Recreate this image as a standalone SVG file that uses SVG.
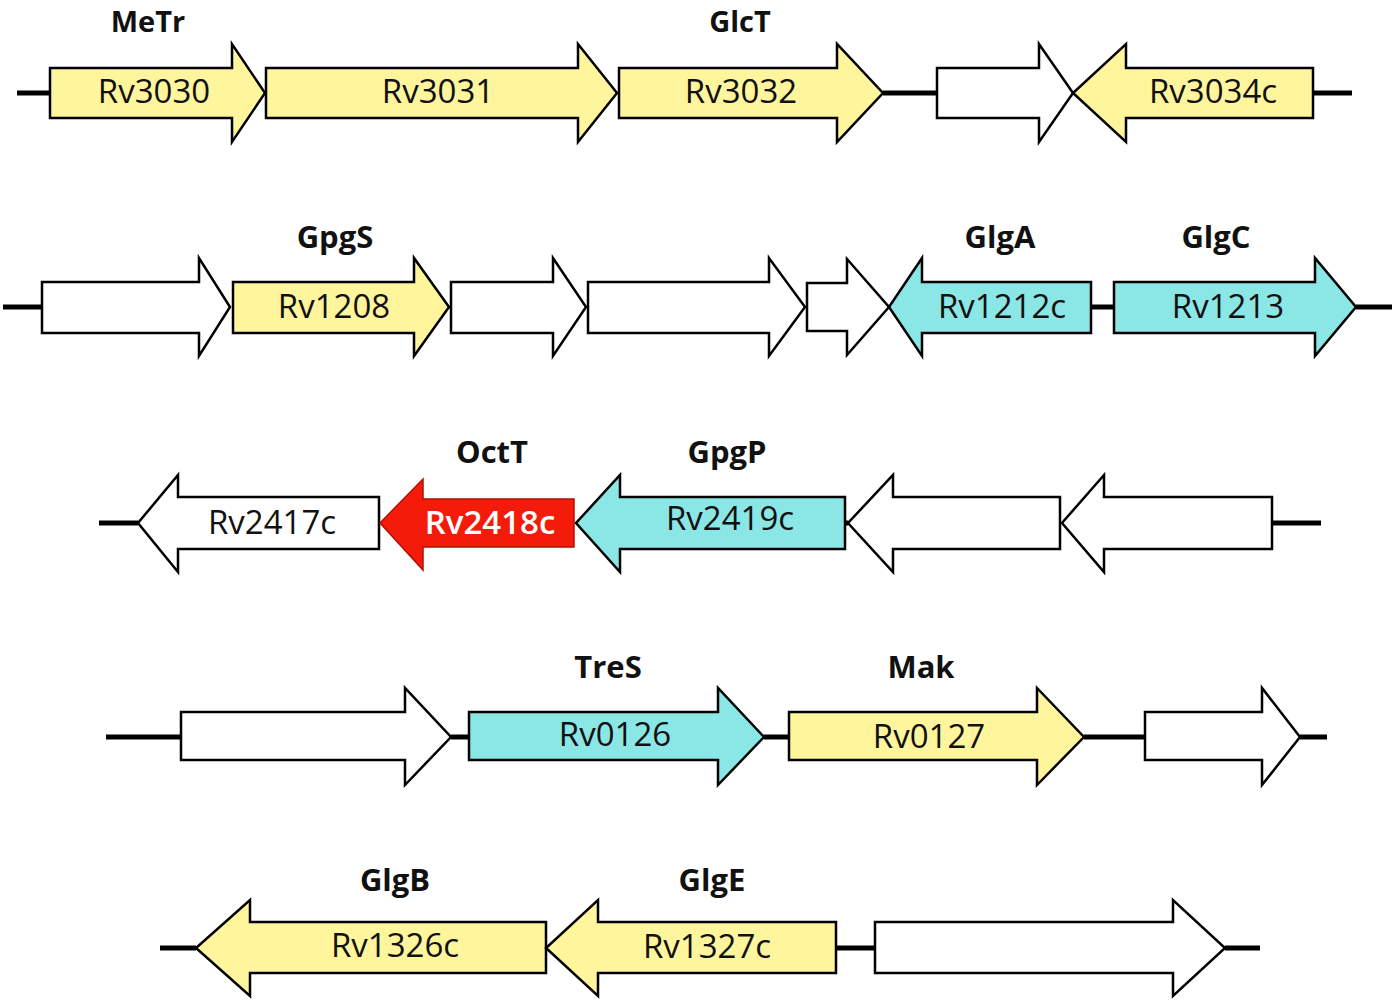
<svg xmlns="http://www.w3.org/2000/svg" width="1395" height="1003" viewBox="0 0 1395 1003">
<style>
.bb{stroke:#000;stroke-width:5;fill:none}
.g{stroke:#000;stroke-width:2.5;stroke-linejoin:miter}
.y{fill:#FFF59C}
.c{fill:#8BE6E6}
.w{fill:#fff}
.r{fill:#F41B0B;stroke:#B01000;stroke-width:1.5}
.t{font-family:"Open Sans","Liberation Sans",sans-serif;font-size:33px;text-anchor:middle;fill:#111}
.l{font-family:"Open Sans","Liberation Sans",sans-serif;font-size:31px;font-weight:bold;text-anchor:middle;fill:#111}
.l1{font-size:29px}
.tw{fill:#fff;font-weight:600}
</style>
<rect width="1395" height="1003" fill="#fff"/>
<g id="connectors">
<path class="bb" d="M17 93H50M883 93H937M1313 93H1352"/>
<path class="bb" d="M3 307H42M1091 307H1114M1356 307H1392"/>
<path class="bb" d="M99 523H138M845 523H848M1272 523H1321"/>
<path class="bb" d="M106 737H181M451 737H469M764 737H789M1084 737H1145M1300 737H1327"/>
<path class="bb" d="M160 948H196M836 948H875M1225 948H1260"/>
</g>
<!-- Row 1 -->
<g id="Rv3030"><polygon class="g y" points="50,68 232,68 232,44 265,93 232,142 232,118 50,118"/><text class="t" x="154" y="103">Rv3030</text><text class="l l1" x="148" y="32">MeTr</text></g>
<g id="Rv3031"><polygon class="g y" points="266,68 578,68 578,44 617,93 578,142 578,118 266,118"/><text class="t" x="438" y="103">Rv3031</text></g>
<g id="Rv3032"><polygon class="g y" points="619,68 837,68 837,44 883,93 837,142 837,118 619,118"/><text class="t" x="741" y="103">Rv3032</text><text class="l l1" x="740" y="32">GlcT</text></g>
<g id="Rv3033"><polygon class="g w" points="937,68 1039,68 1039,44 1073,93 1039,142 1039,118 937,118"/></g>
<g id="Rv3034c"><polygon class="g y" points="1313,68 1126,68 1126,44 1073,93 1126,142 1126,118 1313,118"/><text class="t" x="1213" y="103">Rv3034c</text></g>
<!-- Row 2 -->
<g id="Rv1207"><polygon class="g w" points="42,282 199,282 199,258 230,307 199,356 199,333 42,333"/></g>
<g id="Rv1208"><polygon class="g y" points="233,282 414,282 414,258 449,307 414,356 414,333 233,333"/><text class="t" x="334" y="318">Rv1208</text><text class="l" x="335" y="248">GpgS</text></g>
<g id="Rv1209"><polygon class="g w" points="451,282 553,282 553,258 586,307 553,356 553,333 451,333"/></g>
<g id="Rv1210"><polygon class="g w" points="588,282 769,282 769,258 805,307 769,356 769,333 588,333"/></g>
<g id="Rv1211"><polygon class="g w" points="807,283 847,283 847,259 889,307 847,355 847,331 807,331"/></g>
<g id="Rv1212c"><polygon class="g c" points="1091,282 922,282 922,258 889,307 922,356 922,333 1091,333"/><text class="t" x="1002" y="318">Rv1212c</text><text class="l" x="1000" y="248">GlgA</text></g>
<g id="Rv1213"><polygon class="g c" points="1114,282 1315,282 1315,258 1356,307 1315,356 1315,333 1114,333"/><text class="t" x="1228" y="318">Rv1213</text><text class="l" x="1216" y="248">GlgC</text></g>
<!-- Row 3 -->
<g id="Rv2417c"><polygon class="g w" points="379,497 178,497 178,475 138,523 178,572 178,549 379,549"/><text class="t" x="272" y="534">Rv2417c</text></g>
<g id="Rv2418c"><polygon class="r" points="574,499 423,499 423,479 380,523 423,570 423,547 574,547"/><text class="t tw" x="490" y="534">Rv2418c</text><text class="l" x="492" y="463">OctT</text></g>
<g id="Rv2419c"><polygon class="g c" points="845,497 620,497 620,475 576,523 620,572 620,549 845,549"/><text class="t" x="730" y="530">Rv2419c</text><text class="l" x="727" y="463">GpgP</text></g>
<g id="Rv2420c"><polygon class="g w" points="1060,497 893,497 893,475 848,523 893,572 893,549 1060,549"/></g>
<g id="Rv2421c"><polygon class="g w" points="1272,497 1104,497 1104,475 1062,523 1104,572 1104,549 1272,549"/></g>
<!-- Row 4 -->
<g id="Rv0125"><polygon class="g w" points="181,712 405,712 405,688 451,737 405,785 405,760 181,760"/></g>
<g id="Rv0126"><polygon class="g c" points="469,712 718,712 718,688 764,737 718,785 718,760 469,760"/><text class="t" x="615" y="746">Rv0126</text><text class="l" x="608" y="678">TreS</text></g>
<g id="Rv0127"><polygon class="g y" points="789,712 1037,712 1037,688 1084,737 1037,785 1037,760 789,760"/><text class="t" x="929" y="748">Rv0127</text><text class="l" x="921" y="678">Mak</text></g>
<g id="Rv0128"><polygon class="g w" points="1145,712 1262,712 1262,688 1300,737 1262,785 1262,760 1145,760"/></g>
<!-- Row 5 -->
<g id="Rv1326c"><polygon class="g y" points="546,922 250,922 250,900 196,948 250,996 250,973 546,973"/><text class="t" x="395" y="957">Rv1326c</text><text class="l" x="395" y="891">GlgB</text></g>
<g id="Rv1327c"><polygon class="g y" points="836,922 598,922 598,900 546,948 598,996 598,973 836,973"/><text class="t" x="707" y="958">Rv1327c</text><text class="l" x="712" y="891">GlgE</text></g>
<g id="Rv1328"><polygon class="g w" points="875,922 1173,922 1173,900 1225,948 1173,996 1173,973 875,973"/></g>
</svg>
